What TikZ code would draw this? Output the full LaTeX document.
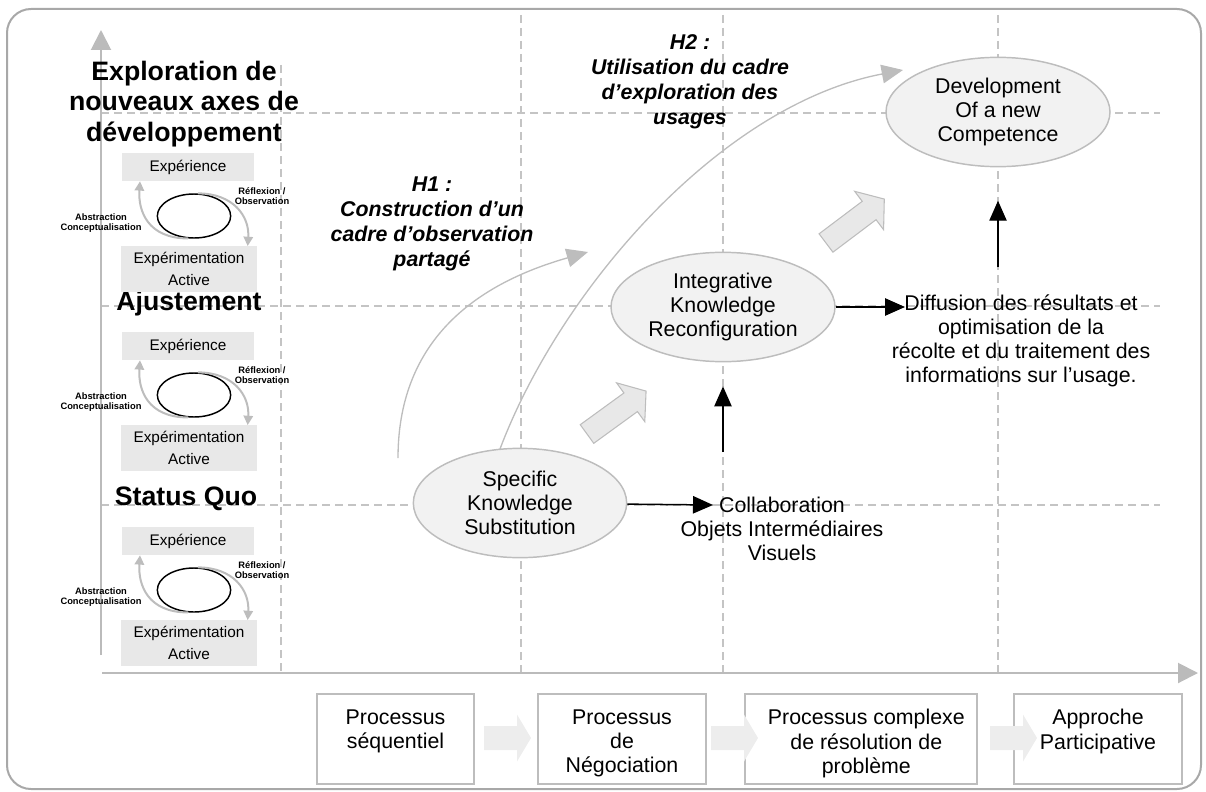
\documentclass[tikz,border=0pt]{standalone}
\usepackage{fontspec}
\setmainfont{Liberation Sans}
\usetikzlibrary{arrows.meta,positioning,shapes.geometric}
\definecolor{gridgray}{HTML}{C4C4C4}
\definecolor{edgegray}{HTML}{BDBDBD}
\definecolor{axisgray}{HTML}{BBBBBB}
\definecolor{framegray}{HTML}{A8A8A8}
\definecolor{palefill}{HTML}{F2F2F2}
\definecolor{boxfill}{HTML}{E8E8E8}
\definecolor{fatfill}{HTML}{EDEDED}
\tikzset{
  fatarrow/.pic={\path[pic actions] (0,-11.5)--(54,-11.5)--(54,-24)--(73,0)--(54,24)--(54,11.5)--(0,11.5)--cycle;},
  flatarrow/.pic={\path[pic actions] (0,-12)--(33,-12)--(33,-23.5)--(47,0)--(33,23.5)--(33,12)--(0,12)--cycle;}
}
\begin{document}
\begin{tikzpicture}[x=0.75pt,y=-0.75pt,
  every node/.style={font=\fontsize{16}{18}\selectfont,align=center,inner sep=0pt},
  ell/.style={ellipse,draw=edgegray,fill=palefill,line width=1.1pt,minimum width=168pt,minimum height=82pt},
  gridline/.style={draw=gridgray,line width=0.9pt,dash pattern=on 6pt off 3.75pt},
  axisline/.style={draw=axisgray,line width=1.5pt,-{Triangle[length=15pt,width=15pt]}},
  blk/.style={-{Triangle[length=15pt,width=13pt]},line width=1.1pt},
  hyp/.style={draw=edgegray,line width=1pt,-{Triangle[length=16pt,width=14pt]}},
  cyc/.style={draw=edgegray,line width=1.5pt,-{Triangle[length=7pt,width=7pt]}},
  mini/.style={fill=boxfill,font=\fontsize{11.5}{16.5}\selectfont},
  smalllbl/.style={font=\fontsize{7}{7.5}\selectfont\bfseries},
  lvl/.style={font=\fontsize{20}{23}\selectfont\bfseries},
  hyptext/.style={font=\fontsize{16}{18.75}\selectfont\bfseries\itshape},
  pbox/.style={draw=edgegray,line width=1.1pt,minimum height=67.5pt}]
  \useasboundingbox (0,0) rectangle (1206,792);
  \draw[framegray,line width=1.5pt,rounded corners=18pt] (7,9) rectangle (1201,789);
  % grid and axes
  \draw[gridline] (281,65) -- (281,673);
  \foreach \gx in {521,723,998} \draw[gridline] (\gx,15) -- (\gx,673);
  \foreach \gy in {113,306,505} \draw[gridline] (101,\gy) -- (1160,\gy);
  \draw[axisline] (101,655) -- (101,30);
  \draw[axisline] (102,673) -- (1198,673);
  % levels
  \node[lvl] (lexp) at (184,104) {Exploration de\\nouveaux axes de\\développement};
  \node[lvl] (ladj) at (189,304) {Ajustement};
  \node[lvl] (lsq) at (186,499) {Status Quo};
  \foreach \cy/\nm in {216/a,395/b,590/c}{
    \node[ellipse,draw,line width=1.1pt,minimum width=55pt,minimum height=33pt] (cyc\nm) at (194,\cy) {};
    \node[mini,minimum width=99pt,minimum height=21pt] (exp\nm) at (188,\cy-49) {Expérience};
    \node[mini,minimum width=102pt,minimum height=34pt] (act\nm) at (189,\cy+53) {Expérimentation\\Active};
    \draw[cyc] (cyc\nm.255) .. controls +(-40,0) and +(-2,30) .. ([xshift=-36pt]exp\nm.south);
    \draw[cyc] (cyc\nm.80) .. controls +(35,0) and +(2,-30) .. ([xshift=44pt]act\nm.north);
    \node[smalllbl] (ref\nm) at (262,\cy-20) {Réflexion /\\Observation};
    \node[smalllbl] (abs\nm) at (101,\cy+7) {Abstraction\\Conceptualisation};
  }
  % hypotheses
  \node[hyptext] (h1) at (432,224) {H1 :\\Construction d’un\\cadre d’observation\\partagé};
  \node[hyptext] (h2) at (690,82) {H2 :\\Utilisation du cadre\\d’exploration des\\usages};
  \coordinate (h1s) at (398,458);
  \coordinate (h1e) at (588,252);
  \coordinate (h2s) at (500,449);
  \coordinate (h2e) at (903,70);
  \draw[hyp] (h1s) .. controls (398,330) and (490,280) .. (h1e);
  \draw[hyp] (h2s) .. controls (560,290) and (720,105) .. (h2e);
  % knowledge stages
  \node[ell,minimum width=160pt] (spec) at (520,503) {Specific\\Knowledge\\Substitution};
  \node[ell] (integ) at (723,307) {Integrative\\Knowledge\\Reconfiguration};
  \node[ell] (dev) at (998,112) {Development\\Of a new\\Competence};
  \pic[rotate=36,fill=boxfill,draw=edgegray,line width=0.8pt] at (587,434) {fatarrow};
  \pic[rotate=37,fill=boxfill,draw=edgegray,line width=0.8pt] at (826,243) {fatarrow};
  \node (collab) at (782,529) {Collaboration\\Objets Intermédiaires\\Visuels};
  \node (diff) at (1021,341) {Diffusion des résultats et\\optimisation de la\\récolte et du traitement des\\informations sur l’usage.};
  \coordinate (collabin) at (713,505);
  \coordinate (upin) at (723,452);
  \coordinate (diffin) at (905,307);
  \coordinate (devin) at (998,267);
  \draw[blk] (spec) -- (collabin);
  \draw[blk,shorten >=18pt] (upin) -- (integ);
  \draw[blk] (integ) -- (diffin);
  \draw[blk,shorten >=25pt] (devin) -- (dev);
  % processes
  \node[pbox,minimum width=118pt] (p1) at (395.5,739) {};
  \node[pbox,minimum width=126pt] (p2) at (622,739) {};
  \node[pbox,minimum width=174pt] (p3) at (861,739) {};
  \node[pbox,minimum width=126pt] (p4) at (1098,739) {};
  \node[below=12pt of p1.north] (p1t) {Processus\\séquentiel};
  \node[below=12pt of p2.north] (p2t) {Processus\\de\\Négociation};
  \node[below=12pt of p3.north,xshift=4pt] (p3t) {Processus complexe\\de résolution de\\problème};
  \node[below=12pt of p4.north] (p4t) {Approche\\Participative};
  \foreach \ax in {484,711,990} \pic[fill=fatfill] at (\ax,738) {flatarrow};
\end{tikzpicture}
\end{document}
